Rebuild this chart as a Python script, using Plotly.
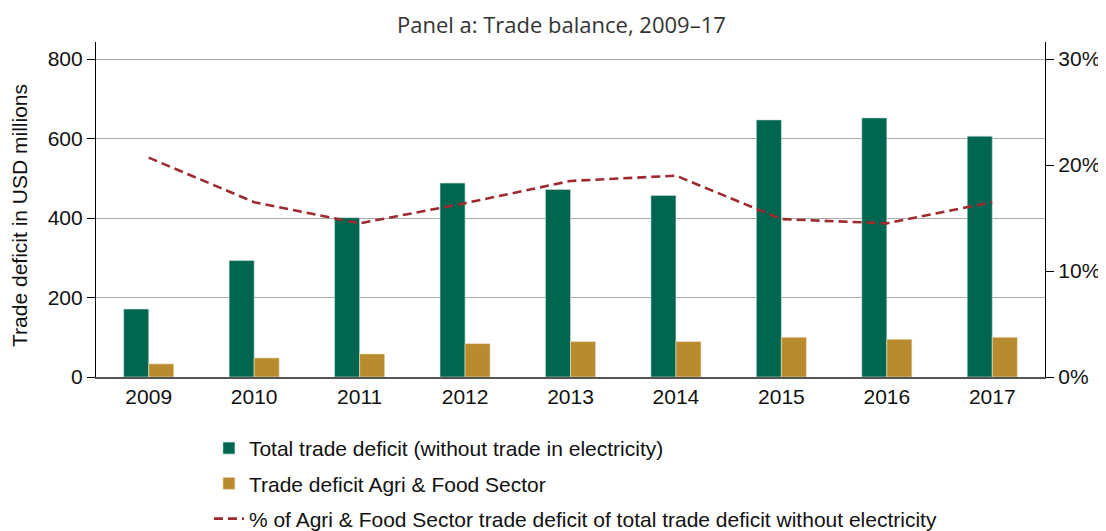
import plotly.graph_objects as go

years = ["2009", "2010", "2011", "2012", "2013", "2014", "2015", "2016", "2017"]
total_deficit = [171, 293, 401, 488, 472, 457, 647, 652, 606]
agri_deficit = [33, 48, 58, 84, 89, 89, 100, 95, 100]
agri_share = [0.207, 0.165, 0.145, 0.164, 0.185, 0.190, 0.149, 0.145, 0.165]

left_ticks = [0, 200, 400, 600, 800]
right_ticks = [0, 0.1, 0.2, 0.3]
right_tick_labels = ["0%", "10%", "20%", "30%"]

GREEN = "#006650"
GOLD = "#b78b2e"
RED = "#9e2a2f"
FONT = "Liberation Sans, Arial, sans-serif"

fig = go.Figure()
fig.add_trace(go.Bar(
    x=years, y=total_deficit, name="Total trade deficit (without trade in electricity)",
    marker=dict(color=GREEN, line=dict(color="#cfe3dc", width=0.6)),
    legendgroup="a", yaxis="y",
))
fig.add_trace(go.Bar(
    x=years, y=agri_deficit, name="Trade deficit Agri & Food Sector",
    marker=dict(color=GOLD, line=dict(color="#f0e4c8", width=0.6)),
    legendgroup="b", yaxis="y",
))
fig.add_trace(go.Scatter(
    x=years, y=agri_share, mode="lines",
    name="% of Agri & Food Sector trade deficit of total trade deficit without electricity",
    line=dict(color=RED, width=2.6, dash="9px,5px"),
    legendgroup="c", yaxis="y2",
))

ymax = 843
fig.update_layout(
    width=1098, height=523,
    margin=dict(l=88, r=61, t=34, b=154, autoexpand=False),
    paper_bgcolor="white", plot_bgcolor="white",
    font=dict(family=FONT, size=21, color="#111"),
    title=dict(text="Panel a: Trade balance, 2009–17", x=0.504, xanchor="center",
               y=0.967, yanchor="middle",
               font=dict(family="Open Sans, Lato, sans-serif", size=22, color="#333")),
    barmode="group", bargap=0.525, bargroupgap=0,
    showlegend=True,
    legend=dict(orientation="v", x=0.119, xanchor="left", y=-0.152, yanchor="top",
                font=dict(size=21, color="#111"), tracegroupgap=5,
                bgcolor="rgba(0,0,0,0)"),
    xaxis=dict(type="category", showgrid=False, showline=True, linecolor="#555", linewidth=2,
               ticks="", tickfont=dict(size=21), zeroline=False, automargin=False),
    yaxis=dict(range=[0, ymax], tickvals=left_ticks, showgrid=True, gridcolor="#aaaaaa",
               gridwidth=1.2, showline=True, linecolor="#000", linewidth=1.2,
               ticks="outside", ticklen=8, tickcolor="#000", zeroline=False, automargin=False,
               tickfont=dict(size=21)),
    yaxis2=dict(range=[0, ymax * 0.3 / 800], overlaying="y", side="right",
                tickvals=right_ticks, ticktext=right_tick_labels, showgrid=False,
                showline=True, linecolor="#000", linewidth=1.2, ticks="outside",
                ticklen=8, tickcolor="#000", zeroline=False, tickfont=dict(size=21),
                automargin=False),
    annotations=[dict(text="Trade deficit in USD millions", textangle=-90,
                      xref="paper", yref="paper", x=-0.080, y=0.481,
                      xanchor="center", yanchor="middle", showarrow=False,
                      font=dict(size=21, color="#111"))],
)

fig.write_html("out.html")
